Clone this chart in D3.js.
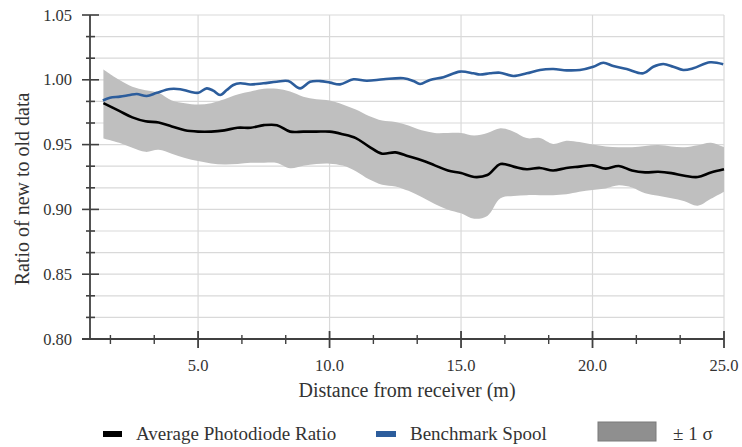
<!DOCTYPE html>
<html>
<head>
<meta charset="utf-8">
<script src="https://cdn.jsdelivr.net/npm/d3@7"></script>
<style>
  body { margin: 0; background: #fff; }
</style>
</head>
<body>
<svg id="chart" width="742" height="447"></svg>
<script>
// ---- data ----
var distance = [1.4, 2.0, 2.5, 3.0, 3.5, 4.0, 4.5, 5.0, 5.5, 6.0, 6.5, 7.0, 7.5, 8.0, 8.5, 9.0, 9.5, 10.0,
  10.5, 11.0, 11.5, 12.0, 12.5, 13.0, 13.5, 14.0, 14.5, 15.0, 15.5, 16.0, 16.5, 17.0, 17.5, 18.0, 18.5,
  19.0, 19.5, 20.0, 20.5, 21.0, 21.5, 22.0, 22.5, 23.0, 23.5, 24.0, 24.5, 25.0];

var avgRatio = [0.982, 0.976, 0.971, 0.968, 0.967, 0.964, 0.961, 0.960, 0.960, 0.961, 0.963, 0.963, 0.965,
  0.965, 0.960, 0.960, 0.960, 0.960, 0.958, 0.955, 0.9485, 0.943, 0.944, 0.941, 0.938, 0.934, 0.930, 0.928,
  0.925, 0.9265, 0.935, 0.933, 0.931, 0.932, 0.930, 0.932, 0.933, 0.934, 0.9315, 0.9335, 0.930, 0.9286,
  0.929, 0.928, 0.926, 0.925, 0.9285, 0.931];

var sigmaHigh = [1.008, 1.000, 0.9947, 0.992, 0.990, 0.984, 0.982, 0.981, 0.982, 0.985, 0.9887, 0.991, 0.993,
  0.993, 0.991, 0.987, 0.985, 0.984, 0.981, 0.977, 0.972, 0.9685, 0.9675, 0.9647, 0.961, 0.959, 0.959, 0.959,
  0.957, 0.959, 0.9626, 0.960, 0.955, 0.955, 0.9505, 0.953, 0.952, 0.950, 0.9485, 0.948, 0.948, 0.949,
  0.9496, 0.9485, 0.948, 0.9495, 0.9515, 0.948];

var sigmaLow = [0.9548, 0.9514, 0.9476, 0.9444, 0.946, 0.943, 0.9397, 0.9373, 0.9354, 0.9346, 0.935, 0.936,
  0.936, 0.9358, 0.9317, 0.9337, 0.935, 0.9353, 0.9338, 0.9294, 0.9232, 0.919, 0.9177, 0.9143, 0.9096,
  0.9042, 0.8998, 0.897, 0.8928, 0.895, 0.9086, 0.9103, 0.911, 0.911, 0.911, 0.9116, 0.9136, 0.915, 0.9162,
  0.9186, 0.9169, 0.9124, 0.9105, 0.9086, 0.9063, 0.9029, 0.9082, 0.9137];

var spoolDistance = [1.38, 1.65, 2.03, 2.41, 2.67, 3.05, 3.43, 3.94, 4.32, 4.70, 5.01, 5.33, 5.58, 5.84,
  6.09, 6.34, 6.60, 6.98, 7.48, 7.99, 8.43, 8.88, 9.26, 9.64, 10.02, 10.40, 10.91, 11.41, 12.05, 12.81,
  13.19, 13.44, 13.82, 14.33, 14.96, 15.47, 15.72, 16.10, 16.48, 16.99, 17.50, 18.00, 18.51, 19.02, 19.52,
  20.03, 20.41, 20.79, 21.30, 21.93, 22.31, 22.69, 23.07, 23.45, 23.83, 24.47, 24.97];

var spoolRatio = [0.984, 0.9862, 0.987, 0.9883, 0.989, 0.9875, 0.990, 0.9929, 0.9927, 0.9908, 0.990, 0.9934,
  0.9916, 0.9883, 0.9921, 0.996, 0.9973, 0.9964, 0.9973, 0.9985, 0.999, 0.9934, 0.9985, 0.999, 0.9978,
  0.9965, 1.0004, 0.9993, 1.0004, 1.0012, 0.9991, 0.9968, 0.9999, 1.002, 1.0063, 1.005, 1.0041, 1.005,
  1.0055, 1.0029, 1.005, 1.0076, 1.0083, 1.0073, 1.0076, 1.0101, 1.0132, 1.0106, 1.0083, 1.005, 1.0101,
  1.0122, 1.0101, 1.0076, 1.0089, 1.0135, 1.012];

var yMajorTicks = [0.80, 0.85, 0.90, 0.95, 1.00, 1.05];
var xMajorTicks = [5, 10, 15, 20, 25];
var legendLabels = ["Average Photodiode Ratio", "Benchmark Spool", "\u00b1 1 \u03c3"];

// ---- layout ----
var svg = d3.select("#chart")
  .attr("font-family", "'Liberation Serif', 'Times New Roman', 'DejaVu Serif', serif");
var plotLeft = 90, plotRight = 724, plotTop = 15, plotBottom = 339;
var textColor = "#333";

var x = d3.scaleLinear().domain([0.89, 25]).range([plotLeft, plotRight]);
var y = d3.scaleLinear().domain([0.80, 1.05]).range([plotBottom, plotTop]);

var step = 0.05 / 3;
var yAllTicks = d3.range(0, 16).map(function(i) { return 0.80 + i * step; });
var xAllTicks = d3.range(1, 16).map(function(i) { return i * 5 / 3; });
function isMajor(v, unit) { return Math.abs(v / unit - Math.round(v / unit)) < 1e-6; }

// gridlines
svg.append("g").selectAll("line")
  .data(yAllTicks.filter(function(d) { return d > 0.801; }))
  .enter().append("line")
    .attr("x1", plotLeft).attr("x2", plotRight)
    .attr("y1", function(d) { return y(d); }).attr("y2", function(d) { return y(d); })
    .attr("stroke", "#d9d9d9").attr("stroke-width", 1.2);

svg.append("g").selectAll("line")
  .data(xMajorTicks)
  .enter().append("line")
    .attr("x1", function(d) { return x(d); }).attr("x2", function(d) { return x(d); })
    .attr("y1", plotTop).attr("y2", plotBottom)
    .attr("stroke", "#d9d9d9").attr("stroke-width", 1.2);

// +/- 1 sigma band
var band = distance.map(function(d, i) { return { x: d, lo: sigmaLow[i], hi: sigmaHigh[i] }; });
svg.append("path")
  .datum(band)
  .attr("fill", "#bfbfbf")
  .attr("d", d3.area()
    .x(function(d) { return x(d.x); })
    .y0(function(d) { return y(d.lo); })
    .y1(function(d) { return y(d.hi); })
    .curve(d3.curveCatmullRom));

// lines
var avgData = distance.map(function(d, i) { return [d, avgRatio[i]]; });
var spoolData = spoolDistance.map(function(d, i) { return [d, spoolRatio[i]]; });
var line = d3.line()
  .x(function(d) { return x(d[0]); })
  .y(function(d) { return y(d[1]); })
  .curve(d3.curveCatmullRom);

svg.append("path").datum(spoolData)
  .attr("fill", "none").attr("stroke", "#2c5d9c").attr("stroke-width", 2.6)
  .attr("stroke-linejoin", "round").attr("d", line);

svg.append("path").datum(avgData)
  .attr("fill", "none").attr("stroke", "#000").attr("stroke-width", 2.6)
  .attr("stroke-linejoin", "round").attr("d", line);

// axes
var axisColor = "#404040";
svg.append("line")
  .attr("x1", plotLeft).attr("x2", plotLeft).attr("y1", plotTop).attr("y2", plotBottom)
  .attr("stroke", axisColor).attr("stroke-width", 1.8);
svg.append("line")
  .attr("x1", plotLeft - 8).attr("x2", plotRight).attr("y1", plotBottom).attr("y2", plotBottom)
  .attr("stroke", axisColor).attr("stroke-width", 1.8);

svg.append("g").selectAll("line")
  .data(yAllTicks)
  .enter().append("line")
    .attr("x1", function(d) { return isMajor(d, 0.05) ? plotLeft - 8 : plotLeft - 4; })
    .attr("x2", function(d) { return isMajor(d, 0.05) ? plotLeft + 9 : plotLeft + 5; })
    .attr("y1", function(d) { return y(d); }).attr("y2", function(d) { return y(d); })
    .attr("stroke", axisColor).attr("stroke-width", 1.6);

svg.append("g").selectAll("line")
  .data(xAllTicks)
  .enter().append("line")
    .attr("x1", function(d) { return x(d); }).attr("x2", function(d) { return x(d); })
    .attr("y1", function(d) { return isMajor(d, 5) ? plotBottom - 8 : plotBottom - 4; })
    .attr("y2", function(d) { return isMajor(d, 5) ? plotBottom + 9 : plotBottom + 5; })
    .attr("stroke", axisColor).attr("stroke-width", function(d) { return isMajor(d, 5) ? 1.8 : 1.4; });

svg.append("g").selectAll("text")
  .data(yMajorTicks)
  .enter().append("text")
    .attr("x", 72).attr("y", function(d) { return y(d) + 5.5; })
    .attr("text-anchor", "end").attr("font-size", 16.5).attr("fill", textColor)
    .text(function(d) { return d.toFixed(2); });

svg.append("g").selectAll("text")
  .data(xMajorTicks)
  .enter().append("text")
    .attr("x", function(d) { return x(d); }).attr("y", 371)
    .attr("text-anchor", "middle").attr("font-size", 16.5).attr("fill", textColor)
    .text(function(d) { return d.toFixed(1); });

// axis titles
svg.append("text")
  .attr("x", 407).attr("y", 397)
  .attr("text-anchor", "middle").attr("font-size", 20).attr("fill", textColor)
  .text("Distance from receiver (m)");

svg.append("text")
  .attr("transform", "translate(29,189) rotate(-90)")
  .attr("text-anchor", "middle").attr("font-size", 20).attr("fill", textColor)
  .text("Ratio of new to old data");

// legend
var legend = svg.append("g").attr("font-size", 19).attr("fill", textColor);
legend.append("rect").attr("x", 103).attr("y", 431).attr("width", 19).attr("height", 6).attr("fill", "#000");
legend.append("text").attr("x", 136).attr("y", 440).text(legendLabels[0]);
legend.append("rect").attr("x", 376).attr("y", 431).attr("width", 20).attr("height", 6).attr("fill", "#2c5d9c");
legend.append("text").attr("x", 410).attr("y", 440).text(legendLabels[1]);
legend.append("rect").attr("x", 598).attr("y", 422).attr("width", 58).attr("height", 19)
  .attr("fill", "#8f8f8f").attr("stroke", "#7a7a7a").attr("stroke-width", 1);
legend.append("text").attr("x", 673).attr("y", 440).text(legendLabels[2]);
</script>
</body>
</html>
